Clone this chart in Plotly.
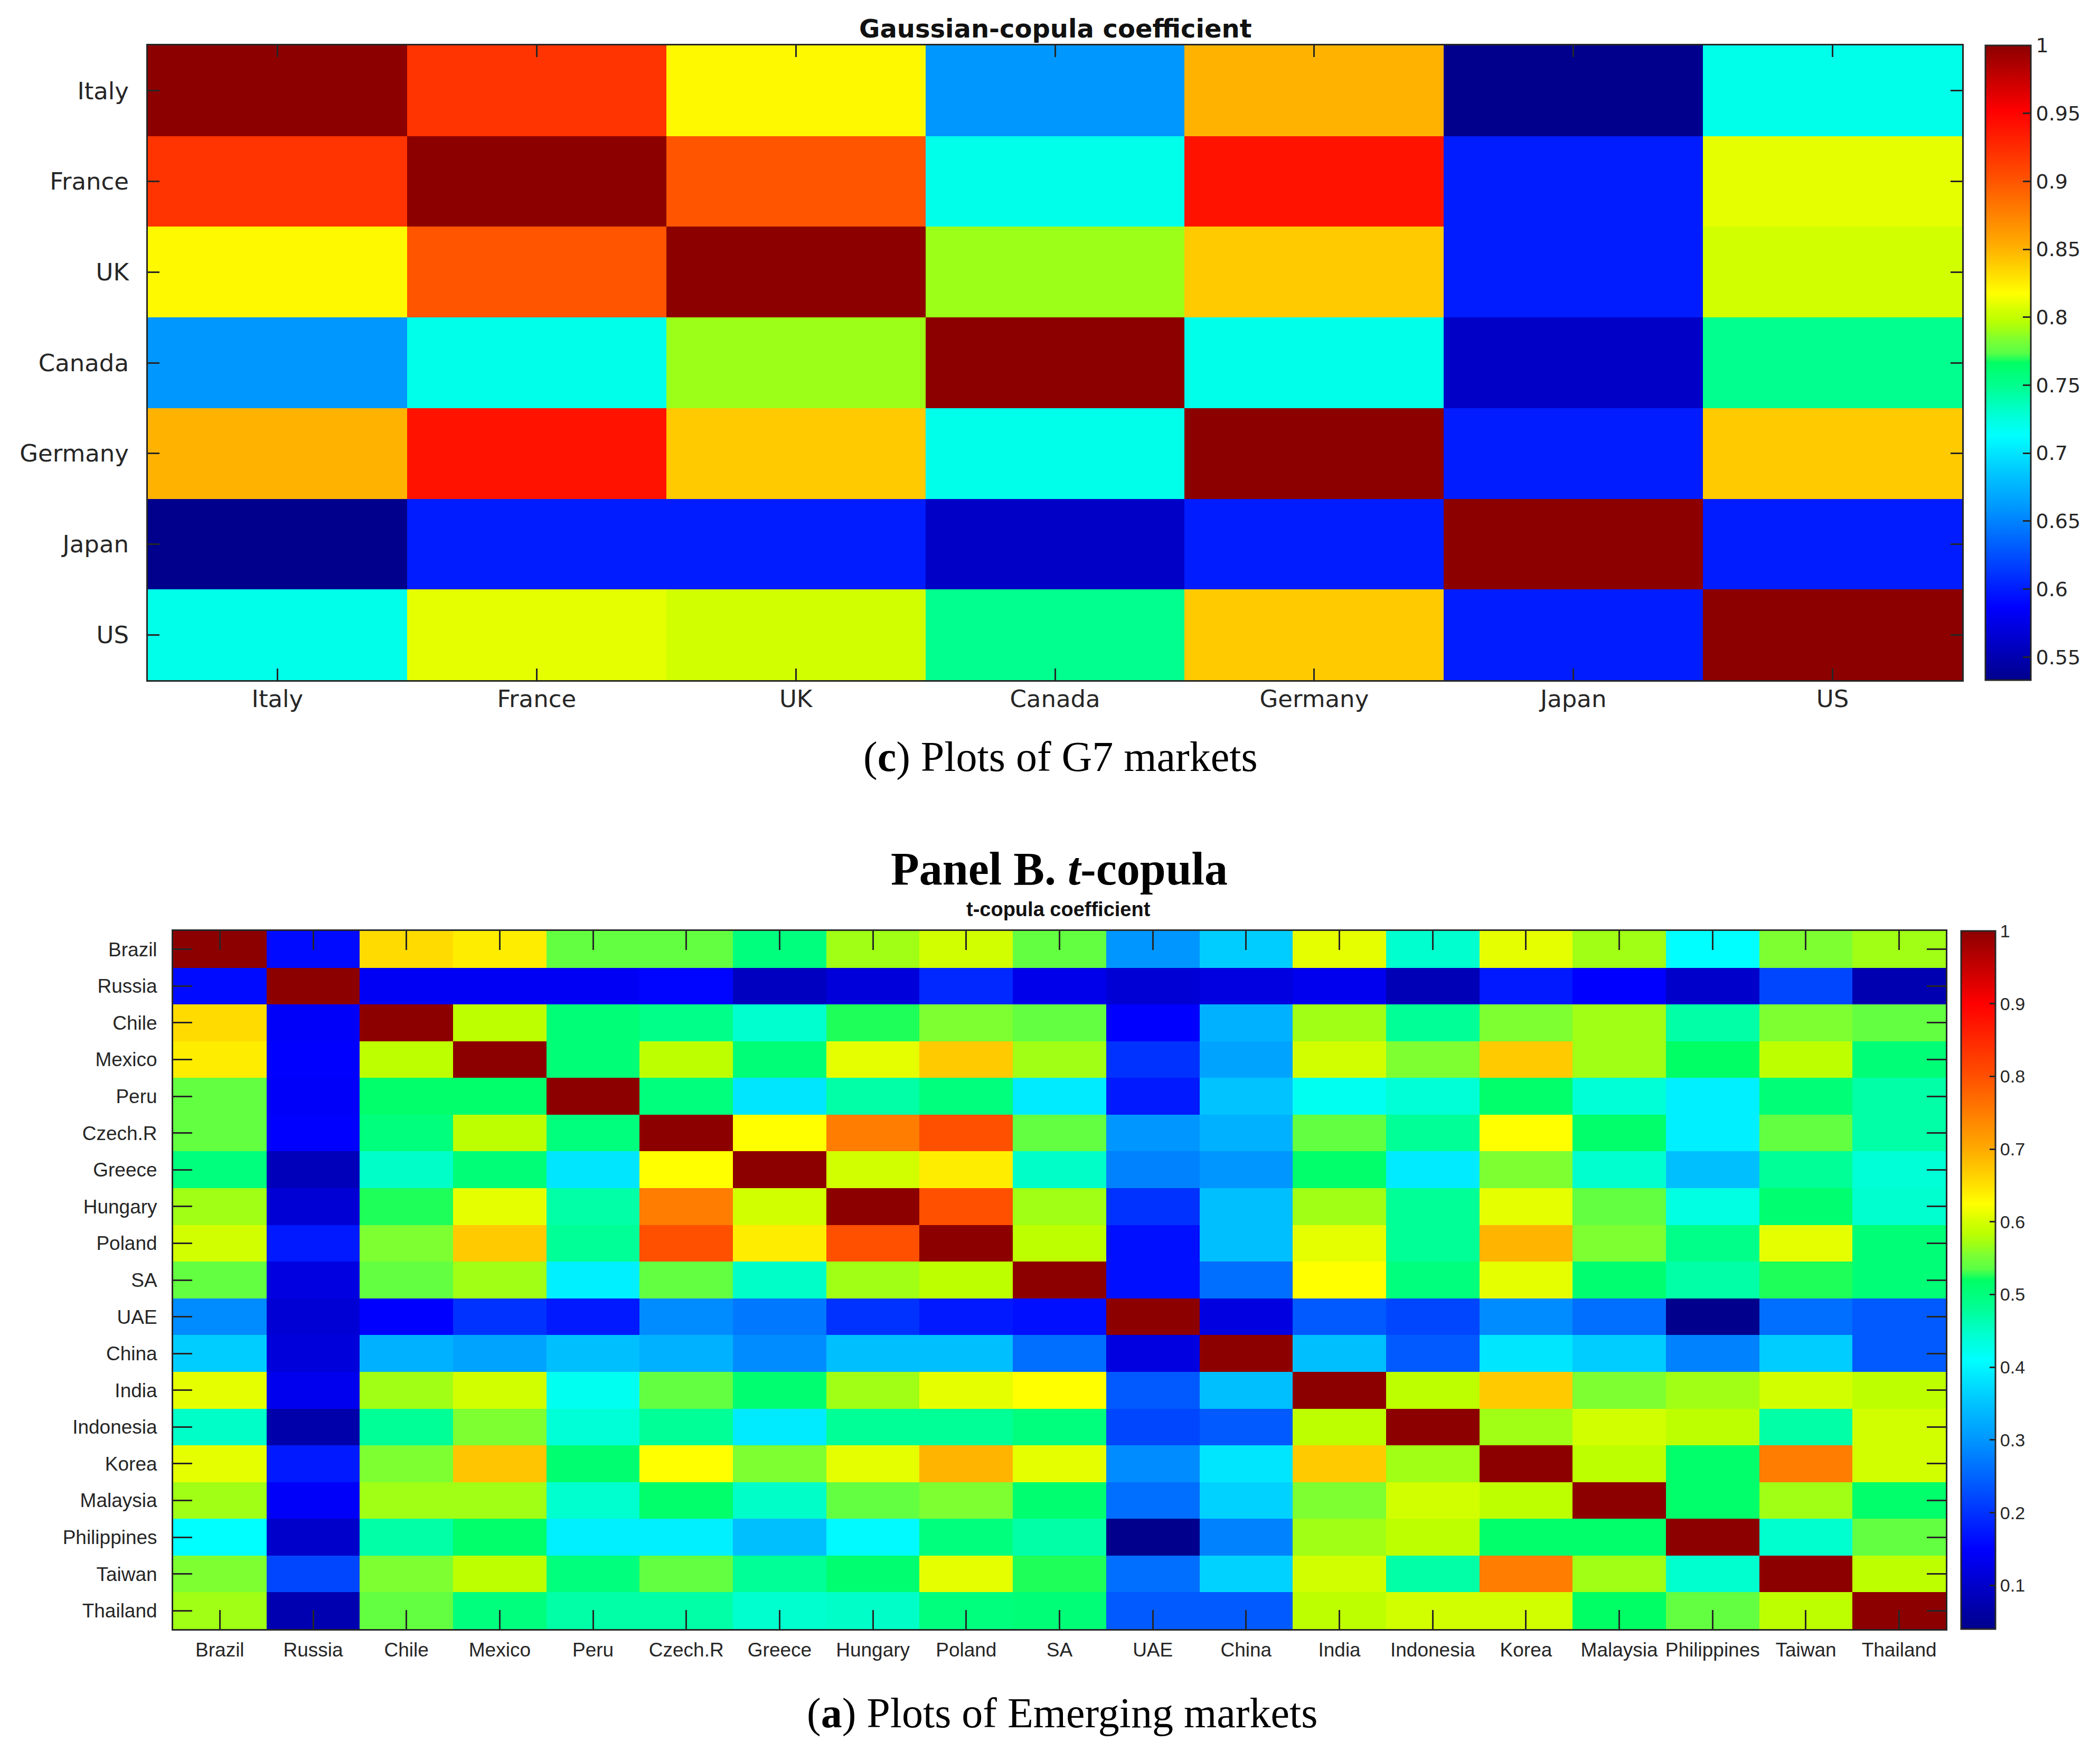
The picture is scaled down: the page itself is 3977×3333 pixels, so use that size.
import plotly.graph_objects as go

W, H = 3977, 3333

# ---------------- data ----------------
g7_labels = ["Italy", "France", "UK", "Canada", "Germany", "Japan", "US"]
g7_matrix = [
    [1.00, 0.92, 0.82, 0.66, 0.85, 0.533, 0.72],
    [0.92, 1.00, 0.90, 0.72, 0.94, 0.60, 0.81],
    [0.82, 0.90, 1.00, 0.79, 0.84, 0.60, 0.805],
    [0.66, 0.72, 0.79, 1.00, 0.72, 0.56, 0.75],
    [0.85, 0.94, 0.84, 0.72, 1.00, 0.60, 0.84],
    [0.533, 0.60, 0.60, 0.56, 0.60, 1.00, 0.60],
    [0.72, 0.81, 0.805, 0.75, 0.84, 0.60, 1.00],
]
g7_ticks = [0.55, 0.6, 0.65, 0.7, 0.75, 0.8, 0.85, 0.9, 0.95, 1.0]
g7_ticktext = ["0.55", "0.6", "0.65", "0.7", "0.75", "0.8", "0.85", "0.9", "0.95", "1"]

em_labels = ["Brazil", "Russia", "Chile", "Mexico", "Peru", "Czech.R", "Greece",
             "Hungary", "Poland", "SA", "UAE", "China", "India", "Indonesia",
             "Korea", "Malaysia", "Philippines", "Taiwan", "Thailand"]
em_matrix = [
    [1.00, 0.16, 0.655, 0.64, 0.54, 0.54, 0.50, 0.57, 0.60, 0.54, 0.30, 0.36, 0.61, 0.445, 0.61, 0.57, 0.41, 0.555, 0.57],
    [0.16, 1.00, 0.14, 0.14, 0.14, 0.155, 0.09, 0.115, 0.19, 0.13, 0.11, 0.12, 0.135, 0.08, 0.175, 0.15, 0.10, 0.22, 0.075],
    [0.655, 0.145, 1.00, 0.585, 0.505, 0.49, 0.445, 0.525, 0.555, 0.54, 0.15, 0.33, 0.57, 0.48, 0.555, 0.57, 0.47, 0.555, 0.54],
    [0.64, 0.15, 0.585, 1.00, 0.505, 0.585, 0.505, 0.61, 0.67, 0.57, 0.20, 0.315, 0.60, 0.555, 0.67, 0.57, 0.52, 0.585, 0.505],
    [0.54, 0.145, 0.515, 0.515, 1.00, 0.50, 0.385, 0.47, 0.50, 0.39, 0.175, 0.35, 0.42, 0.44, 0.515, 0.44, 0.395, 0.505, 0.47],
    [0.54, 0.15, 0.50, 0.585, 0.50, 1.00, 0.625, 0.75, 0.80, 0.54, 0.30, 0.33, 0.54, 0.48, 0.625, 0.515, 0.395, 0.54, 0.47],
    [0.50, 0.085, 0.45, 0.505, 0.385, 0.625, 1.00, 0.60, 0.64, 0.45, 0.28, 0.30, 0.515, 0.39, 0.555, 0.445, 0.345, 0.48, 0.44],
    [0.57, 0.11, 0.525, 0.61, 0.47, 0.75, 0.60, 1.00, 0.80, 0.57, 0.20, 0.345, 0.57, 0.48, 0.61, 0.54, 0.43, 0.51, 0.445],
    [0.60, 0.175, 0.555, 0.67, 0.48, 0.80, 0.64, 0.80, 1.00, 0.585, 0.165, 0.345, 0.61, 0.48, 0.69, 0.555, 0.49, 0.61, 0.505],
    [0.54, 0.12, 0.54, 0.57, 0.395, 0.54, 0.45, 0.57, 0.585, 1.00, 0.165, 0.26, 0.625, 0.50, 0.61, 0.51, 0.47, 0.525, 0.505],
    [0.29, 0.11, 0.15, 0.20, 0.175, 0.29, 0.27, 0.20, 0.175, 0.165, 1.00, 0.12, 0.24, 0.22, 0.29, 0.26, 0.04, 0.26, 0.24],
    [0.36, 0.115, 0.33, 0.315, 0.345, 0.33, 0.29, 0.345, 0.345, 0.26, 0.12, 1.00, 0.345, 0.24, 0.385, 0.36, 0.28, 0.36, 0.24],
    [0.61, 0.135, 0.57, 0.60, 0.42, 0.54, 0.51, 0.57, 0.61, 0.625, 0.24, 0.345, 1.00, 0.585, 0.67, 0.555, 0.57, 0.60, 0.585],
    [0.45, 0.07, 0.48, 0.555, 0.44, 0.48, 0.39, 0.48, 0.48, 0.50, 0.22, 0.24, 0.585, 1.00, 0.57, 0.60, 0.585, 0.47, 0.60],
    [0.61, 0.175, 0.555, 0.675, 0.51, 0.625, 0.555, 0.61, 0.69, 0.61, 0.29, 0.385, 0.67, 0.57, 1.00, 0.585, 0.515, 0.75, 0.60],
    [0.57, 0.145, 0.57, 0.57, 0.445, 0.515, 0.45, 0.54, 0.555, 0.51, 0.26, 0.365, 0.555, 0.60, 0.585, 1.00, 0.515, 0.57, 0.515],
    [0.41, 0.10, 0.47, 0.515, 0.395, 0.395, 0.345, 0.405, 0.50, 0.47, 0.04, 0.28, 0.57, 0.585, 0.515, 0.515, 1.00, 0.445, 0.54],
    [0.555, 0.22, 0.555, 0.585, 0.50, 0.54, 0.48, 0.51, 0.61, 0.525, 0.26, 0.365, 0.60, 0.47, 0.75, 0.57, 0.445, 1.00, 0.585],
    [0.57, 0.075, 0.54, 0.50, 0.47, 0.47, 0.445, 0.45, 0.50, 0.505, 0.24, 0.24, 0.585, 0.60, 0.60, 0.52, 0.54, 0.585, 1.00],
]
em_ticks = [0.1, 0.2, 0.3, 0.4, 0.5, 0.6, 0.7, 0.8, 0.9, 1.0]
em_ticktext = ["0.1", "0.2", "0.3", "0.4", "0.5", "0.6", "0.7", "0.8", "0.9", "1"]

# jet-like colormap as it appears in the reference
jet = [
    [0.0000, "rgb(0,0,140)"],
    [0.1146, "rgb(0,0,255)"],
    [0.1667, "rgb(0,50,255)"],
    [0.2188, "rgb(0,100,255)"],
    [0.2708, "rgb(0,150,255)"],
    [0.3229, "rgb(0,195,255)"],
    [0.3854, "rgb(0,255,255)"],
    [0.4271, "rgb(0,255,200)"],
    [0.4583, "rgb(0,255,150)"],
    [0.5000, "rgb(0,255,100)"],
    [0.5156, "rgb(90,255,70)"],
    [0.5365, "rgb(125,255,50)"],
    [0.5521, "rgb(160,255,20)"],
    [0.5677, "rgb(190,255,0)"],
    [0.5833, "rgb(210,255,0)"],
    [0.5938, "rgb(230,255,0)"],
    [0.6090, "rgb(255,255,0)"],
    [0.6354, "rgb(255,225,0)"],
    [0.6875, "rgb(255,170,0)"],
    [0.7396, "rgb(255,125,0)"],
    [0.7917, "rgb(255,80,0)"],
    [0.8438, "rgb(255,40,0)"],
    [0.8958, "rgb(255,0,0)"],
    [1.0000, "rgb(140,0,0)"],
]

DARK = "#262626"

def px_x(v):
    return v / W

def px_y(v):
    return 1 - v / H

# top panel geometry (pixels)
t_left, t_right, t_top, t_bot = 272, 3708, 78, 1280
# bottom panel geometry
b_left, b_right, b_top, b_bot = 320, 3677, 1755, 3077

g7_min = min(min(r) for r in g7_matrix)
em_min = min(min(r) for r in em_matrix)

fig = go.Figure()
fig.add_trace(go.Heatmap(
    z=g7_matrix, x=g7_labels, y=g7_labels, colorscale=jet,
    zmin=g7_min, zmax=1.0, xaxis="x", yaxis="y",
    colorbar=dict(
        x=px_x(3752), xanchor="left", xpad=0, ypad=0,
        y=px_y((t_top + t_bot) / 2), yanchor="middle",
        len=(t_bot - t_top) / H, lenmode="fraction",
        thickness=86, thicknessmode="pixels",
        outlinewidth=3, outlinecolor=DARK,
        ticks="inside", ticklen=16, tickwidth=3, tickcolor=DARK,
        tickvals=g7_ticks, ticktext=g7_ticktext,
        tickfont=dict(family="DejaVu Sans", size=38, color=DARK),
    ),
))
fig.add_trace(go.Heatmap(
    z=em_matrix, x=em_labels, y=em_labels, colorscale=jet,
    zmin=em_min, zmax=1.0, xaxis="x2", yaxis="y2",
    colorbar=dict(
        x=px_x(3706), xanchor="left", xpad=0, ypad=0,
        y=px_y((b_top + b_bot) / 2), yanchor="middle",
        len=(b_bot - b_top) / H, lenmode="fraction",
        thickness=65, thicknessmode="pixels",
        outlinewidth=3, outlinecolor=DARK,
        ticks="inside", ticklen=12, tickwidth=3, tickcolor=DARK,
        tickvals=em_ticks, ticktext=em_ticktext,
        tickfont=dict(family="Liberation Sans, Arial", size=34, color=DARK),
    ),
))

def axis(domain, anchor, font, ticklen, standoff, reverse=False):
    d = dict(
        domain=domain, anchor=anchor, type="category",
        showline=True, linewidth=3, linecolor=DARK, mirror="ticks",
        ticks="inside", ticklen=ticklen, tickwidth=3, tickcolor=DARK,
        tickfont=font, showgrid=False, zeroline=False,
        ticklabelstandoff=standoff, fixedrange=True,
    )
    if reverse:
        d["autorange"] = "reversed"
    return d

top_font = dict(family="DejaVu Sans", size=45, color=DARK)
bot_font = dict(family="Liberation Sans, Arial", size=37, color=DARK)

fig.update_layout(
    width=W, height=H, autosize=False,
    margin=dict(l=0, r=0, t=0, b=0),
    paper_bgcolor="white", plot_bgcolor="white",
    showlegend=False,
    xaxis=axis([px_x(t_left), px_x(t_right)], "y", top_font, 22, -6),
    yaxis=axis([px_y(t_bot), px_y(t_top)], "x", top_font, 22, 24, reverse=True),
    xaxis2=axis([px_x(b_left), px_x(b_right)], "y2", bot_font, 36, 5),
    yaxis2=axis([px_y(b_bot), px_y(b_top)], "x2", bot_font, 36, 20, reverse=True),
    annotations=[
        dict(text="<b>Gaussian-copula coefficient</b>", x=px_x(1991), y=px_y(46),
             xref="paper", yref="paper", xanchor="center", yanchor="middle",
             showarrow=False, font=dict(family="DejaVu Sans", size=48, color="#111111")),
        dict(text="(<b>c</b>) Plots of G7 markets", x=px_x(2000), y=px_y(1425),
             xref="paper", yref="paper", xanchor="center", yanchor="middle",
             showarrow=False, font=dict(family="Liberation Serif", size=80, color="black")),
        dict(text="<b>Panel B. <i>t</i>-copula</b>", x=px_x(1998), y=px_y(1637),
             xref="paper", yref="paper", xanchor="center", yanchor="middle",
             showarrow=False, font=dict(family="Liberation Serif", size=88, color="black")),
        dict(text="<b>t-copula coefficient</b>", x=px_x(1996), y=px_y(1714),
             xref="paper", yref="paper", xanchor="center", yanchor="middle",
             showarrow=False, font=dict(family="Liberation Sans, Arial", size=38, color="#111111")),
        dict(text="(<b>a</b>) Plots of Emerging markets", x=px_x(2003), y=px_y(3236),
             xref="paper", yref="paper", xanchor="center", yanchor="middle",
             showarrow=False, font=dict(family="Liberation Serif", size=80, color="black")),
    ],
)

fig.write_html("out.html")
